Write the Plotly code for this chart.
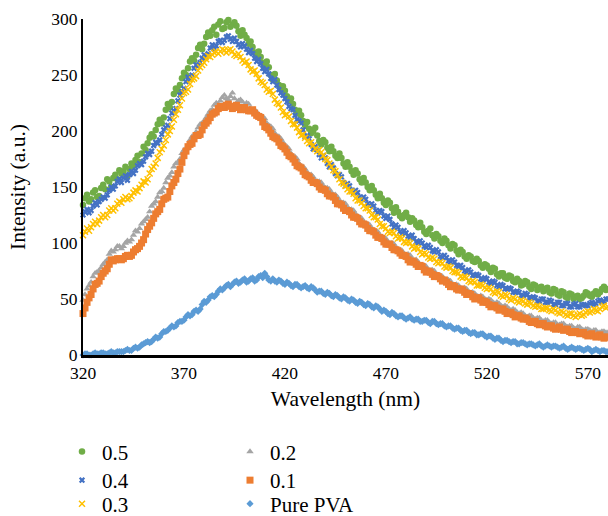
import plotly.graph_objects as go

wavelength = list(range(320, 581))

s05 = [134, 140, 143, 137, 139, 145, 147, 141, 142, 149,
       152, 148, 157, 155, 150, 158, 161, 157, 165, 162,
       164, 168, 160, 166, 171, 169, 174, 178, 172, 180,
       186, 183, 189, 194, 197, 195, 201, 206, 210, 207,
       212, 219, 224, 221, 226, 233, 238, 236, 241, 247,
       252, 250, 256, 262, 265, 263, 268, 274, 277, 273,
       278, 284, 288, 285, 290, 293, 286, 295, 298, 291,
       292, 297, 299, 293, 295, 297, 294, 289, 285, 290,
       286, 283, 278, 280, 275, 270, 266, 271, 266, 261,
       258, 262, 257, 250, 246, 251, 245, 241, 238, 240,
       236, 231, 227, 229, 224, 219, 216, 218, 214, 209,
       205, 208, 202, 198, 200, 203, 196, 191, 188, 192,
       190, 185, 182, 186, 182, 178, 176, 180, 176, 171,
       168, 172, 168, 164, 161, 165, 162, 157, 154, 158,
       154, 150, 147, 151, 147, 143, 140, 144, 140, 136,
       134, 138, 136, 131, 127, 132, 128, 124, 122, 125,
       127, 123, 119, 122, 120, 116, 114, 118, 114, 110,
       108, 111, 113, 107, 104, 108, 106, 102, 100, 104,
       102, 98, 95, 99, 98, 93, 90, 94, 92, 88,
       86, 89, 88, 84, 83, 86, 84, 80, 78, 81,
       80, 77, 74, 78, 77, 72, 70, 73, 73, 69,
       68, 71, 70, 66, 65, 68, 66, 62, 63, 66,
       65, 61, 59, 63, 62, 58, 60, 61, 57, 59,
       60, 56, 55, 59, 58, 54, 53, 57, 56, 52,
       51, 55, 54, 50, 52, 53, 50, 51, 53, 56,
       55, 53, 52, 55, 57, 54, 56, 59, 61, 58,
       59]

s04 = [125, 128, 130, 127, 129, 133, 136, 134, 137, 139,
       141, 140, 143, 147, 150, 148, 151, 155, 157, 154,
       158, 160, 156, 161, 164, 162, 165, 169, 171, 170,
       173, 177, 180, 179, 182, 187, 190, 189, 192, 197,
       201, 203, 205, 211, 216, 218, 220, 227, 232, 235,
       238, 244, 248, 246, 250, 256, 259, 258, 261, 265,
       268, 266, 269, 274, 277, 273, 276, 280, 281, 279,
       281, 284, 285, 282, 280, 283, 280, 277, 275, 278,
       276, 273, 270, 272, 269, 265, 262, 264, 260, 256,
       253, 255, 251, 247, 244, 246, 241, 237, 234, 232,
       229, 226, 222, 220, 219, 214, 210, 209, 207, 201,
       195, 196, 193, 188, 184, 186, 183, 179, 176, 178,
       176, 171, 168, 170, 167, 162, 160, 161, 159, 154,
       151, 153, 151, 147, 145, 147, 145, 141, 139, 141,
       139, 135, 133, 135, 133, 129, 127, 129, 128, 124,
       122, 124, 121, 117, 114, 116, 114, 110, 108, 111,
       109, 106, 105, 107, 104, 101, 100, 102, 100, 97,
       96, 98, 96, 93, 92, 94, 92, 88, 87, 89,
       87, 84, 83, 85, 83, 80, 79, 80, 78, 75,
       74, 76, 74, 71, 71, 72, 71, 68, 67, 69,
       68, 65, 64, 66, 65, 62, 61, 63, 62, 59,
       59, 60, 59, 56, 56, 57, 56, 53, 53, 55,
       54, 51, 51, 52, 51, 48, 48, 50, 50, 47,
       47, 49, 48, 45, 45, 47, 47, 44, 44, 46,
       46, 43, 43, 45, 46, 43, 43, 45, 45, 44,
       44, 46, 47, 45, 46, 48, 49, 47, 48, 50,
       50]

s03 = [107, 110, 113, 111, 114, 117, 119, 117, 120, 123,
       125, 123, 125, 129, 131, 129, 131, 135, 137, 136,
       139, 141, 139, 140, 142, 145, 147, 146, 149, 152,
       155, 154, 157, 162, 166, 168, 171, 176, 181, 184,
       187, 192, 197, 200, 204, 210, 215, 219, 223, 229,
       234, 235, 237, 242, 246, 247, 249, 254, 257, 259,
       261, 264, 267, 266, 268, 270, 271, 269, 271, 273,
       272, 270, 272, 273, 271, 268, 267, 269, 266, 263,
       261, 262, 259, 255, 253, 254, 251, 247, 244, 243,
       241, 237, 235, 236, 233, 228, 225, 224, 221, 217,
       214, 215, 213, 209, 206, 206, 203, 199, 196, 197,
       194, 191, 189, 190, 187, 184, 182, 183, 181, 178,
       175, 174, 171, 168, 165, 164, 161, 157, 154, 153,
       151, 148, 146, 146, 144, 140, 138, 138, 136, 133,
       131, 131, 129, 125, 123, 123, 121, 117, 115, 115,
       113, 110, 109, 110, 109, 106, 104, 105, 104, 101,
       100, 101, 100, 97, 95, 96, 95, 92, 90, 91,
       90, 87, 86, 87, 86, 83, 82, 83, 82, 79,
       78, 79, 78, 75, 74, 74, 73, 70, 69, 70,
       69, 66, 65, 66, 65, 62, 62, 63, 62, 60,
       59, 60, 59, 56, 55, 57, 56, 53, 52, 54,
       53, 50, 49, 51, 50, 48, 47, 49, 48, 46,
       45, 47, 46, 44, 43, 44, 43, 41, 41, 42,
       42, 40, 39, 41, 40, 38, 37, 39, 38, 36,
       35, 37, 37, 35, 34, 36, 37, 35, 36, 38,
       39, 38, 39, 41, 40, 39, 41, 43, 44, 42,
       43]

s02 = [49, 54, 59, 62, 65, 70, 73, 74, 75, 78,
       81, 83, 85, 90, 93, 92, 94, 97, 97, 95,
       97, 100, 102, 101, 103, 107, 111, 110, 113, 117,
       119, 121, 123, 128, 133, 135, 137, 141, 145, 146,
       149, 154, 158, 160, 163, 168, 171, 172, 175, 180,
       183, 184, 187, 192, 195, 196, 199, 203, 206, 207,
       209, 212, 215, 218, 219, 223, 225, 224, 227, 230,
       232, 229, 228, 231, 234, 229, 225, 227, 228, 226,
       223, 225, 224, 220, 218, 219, 217, 214, 212, 213,
       211, 207, 205, 204, 202, 198, 195, 195, 193, 190,
       187, 186, 184, 180, 177, 177, 175, 171, 168, 168,
       166, 163, 161, 161, 159, 156, 155, 155, 154, 151,
       149, 149, 148, 145, 143, 143, 141, 138, 136, 136,
       135, 132, 130, 130, 129, 126, 123, 123, 122, 119,
       117, 117, 116, 113, 111, 111, 110, 107, 105, 105,
       104, 101, 99, 100, 99, 96, 94, 94, 93, 90,
       89, 90, 89, 86, 84, 85, 83, 80, 79, 80,
       79, 76, 75, 76, 75, 72, 70, 71, 70, 68,
       66, 67, 66, 63, 62, 63, 62, 60, 59, 60,
       59, 56, 55, 56, 55, 53, 52, 53, 52, 50,
       49, 50, 49, 47, 46, 47, 46, 44, 43, 44,
       43, 41, 40, 41, 40, 38, 37, 38, 37, 35,
       34, 35, 35, 33, 32, 33, 33, 31, 30, 31,
       31, 29, 28, 29, 29, 27, 27, 28, 28, 26,
       25, 26, 26, 24, 23, 25, 25, 23, 22, 23,
       23, 22, 21, 22, 22, 20, 20, 21, 21, 20,
       20]

s01 = [37, 42, 47, 51, 54, 59, 63, 64, 66, 70,
       73, 75, 77, 81, 85, 84, 85, 86, 86, 85,
       86, 88, 89, 88, 89, 92, 94, 95, 97, 100,
       103, 108, 112, 115, 118, 122, 126, 128, 130, 135,
       139, 140, 141, 146, 151, 154, 157, 162, 166, 172,
       178, 182, 186, 188, 189, 193, 196, 196, 197, 201,
       205, 207, 209, 212, 215, 216, 217, 220, 222, 221,
       221, 223, 224, 222, 220, 222, 223, 221, 219, 220,
       221, 219, 218, 218, 219, 216, 214, 213, 212, 208,
       204, 203, 201, 198, 195, 194, 193, 190, 187, 186,
       184, 181, 178, 177, 175, 172, 169, 168, 167, 164,
       161, 160, 159, 156, 154, 154, 153, 150, 148, 148,
       147, 144, 142, 142, 141, 138, 135, 135, 134, 131,
       129, 129, 128, 125, 123, 123, 122, 119, 117, 117,
       116, 113, 111, 111, 110, 107, 105, 105, 104, 101,
       99, 99, 99, 96, 94, 94, 93, 91, 89, 89,
       88, 85, 83, 84, 83, 81, 79, 80, 79, 76,
       74, 75, 74, 72, 70, 71, 70, 68, 66, 67,
       65, 63, 61, 62, 61, 59, 58, 59, 58, 56,
       54, 55, 54, 52, 50, 51, 51, 49, 47, 48,
       47, 45, 43, 44, 44, 42, 40, 41, 41, 39,
       37, 38, 38, 36, 34, 35, 35, 33, 32, 33,
       32, 30, 29, 30, 30, 28, 27, 28, 28, 26,
       25, 26, 26, 24, 23, 24, 25, 23, 22, 23,
       23, 21, 20, 21, 21, 20, 19, 20, 20, 18,
       17, 18, 19, 17, 16, 17, 18, 16, 15, 16,
       16]

pva = [0, 1, 1, 0, 0, 1, 2, 1, 1, 2,
       2, 1, 1, 2, 3, 2, 2, 3, 3, 3,
       3, 4, 5, 4, 4, 6, 7, 6, 7, 9,
       10, 11, 12, 11, 12, 14, 16, 15, 16, 19,
       21, 21, 22, 24, 26, 25, 26, 29, 30, 30,
       31, 34, 36, 35, 36, 39, 40, 39, 41, 45,
       48, 47, 49, 52, 53, 52, 54, 57, 59, 58,
       60, 62, 63, 61, 63, 65, 66, 64, 65, 67,
       68, 65, 66, 68, 69, 66, 67, 70, 71, 69,
       73, 70, 67, 66, 68, 66, 65, 67, 66, 64,
       63, 65, 64, 62, 61, 63, 63, 61, 60, 61,
       62, 60, 59, 61, 60, 58, 56, 57, 57, 55,
       54, 56, 55, 53, 52, 54, 53, 51, 50, 52,
       51, 49, 48, 50, 49, 47, 46, 48, 47, 45,
       44, 46, 45, 43, 42, 44, 43, 41, 39, 40,
       39, 37, 36, 38, 37, 35, 34, 35, 35, 33,
       32, 33, 34, 32, 31, 32, 32, 30, 30, 31,
       31, 29, 28, 30, 30, 28, 27, 28, 28, 26,
       25, 26, 26, 24, 23, 24, 24, 22, 21, 22,
       22, 20, 19, 20, 20, 18, 18, 19, 19, 17,
       16, 17, 17, 15, 14, 15, 15, 13, 12, 13,
       13, 12, 11, 12, 12, 10, 10, 11, 11, 10,
       9, 10, 10, 9, 8, 9, 10, 8, 7, 8,
       9, 8, 7, 8, 8, 7, 6, 7, 8, 6,
       5, 6, 7, 6, 5, 6, 6, 5, 4, 5,
       6, 5, 3, 4, 5, 4, 3, 4, 4, 3,
       3]

names = ["0.5", "0.4", "0.3", "0.2", "0.1", "Pure PVA"]
series = [s05, s04, s03, s02, s01, pva]
colors = ["#70AD47", "#4472C4", "#FFC000", "#A5A5A5", "#ED7D31", "#5B9BD5"]
symbols = ["circle", "x", "x-thin-open", "triangle-up", "square", "diamond"]
sizes = [6.5, 5.5, 6, 6.5, 7, 5.5]
line_w = [0, 0, 1.5, 0, 0, 0]
legend_ids = ["legend", "legend2", "legend3", "legend", "legend2", "legend3"]

font_family = "Liberation Serif"

fig = go.Figure()
for name, ys, c, sym, sz, lw, lg in zip(names, series, colors, symbols, sizes, line_w, legend_ids):
    fig.add_trace(go.Scatter(
        x=wavelength, y=ys, mode="markers", name=name,
        marker=dict(symbol=sym, size=sz, color=c, line=dict(width=lw, color=c)),
        cliponaxis=False, legend=lg,
    ))

leg_common = dict(orientation="h", xanchor="left", yanchor="middle",
                  x=-0.04, entrywidth=123, entrywidthmode="pixels",
                  font=dict(family=font_family, size=21, color="black"),
                  bgcolor="rgba(0,0,0,0)", itemsizing="trace")

fig.update_layout(
    width=608, height=516,
    margin=dict(l=83, r=0, t=19, b=161, autoexpand=False),
    paper_bgcolor="white", plot_bgcolor="white",
    font=dict(family=font_family, color="black"),
    showlegend=True,
    legend=dict(**leg_common, y=-0.2886),
    legend2=dict(**leg_common, y=-0.3735),
    legend3=dict(**leg_common, y=-0.4435),
    xaxis=dict(
        range=[320, 580], tickvals=[320, 370, 420, 470, 520, 570],
        showgrid=False, zeroline=False, showline=True, linecolor="black",
        linewidth=3, ticks="", automargin=False,
        tickfont=dict(size=17.5, family=font_family, color="black"),
        title=dict(text="Wavelength (nm)", font=dict(size=21.5, family=font_family, color="black"), standoff=9),
    ),
    yaxis=dict(
        range=[0, 300], tickvals=[0, 50, 100, 150, 200, 250, 300],
        showgrid=False, zeroline=False, showline=True, linecolor="black",
        linewidth=2, ticks="", automargin=False,
        tickfont=dict(size=17.5, family=font_family, color="black"),
        title=dict(text="Intensity (a.u.)", font=dict(size=21.5, family=font_family, color="black"), standoff=20),
    ),
)

fig.write_html("out.html", post_script="document.body.style.margin='0px';",
               config={"displayModeBar": False})
